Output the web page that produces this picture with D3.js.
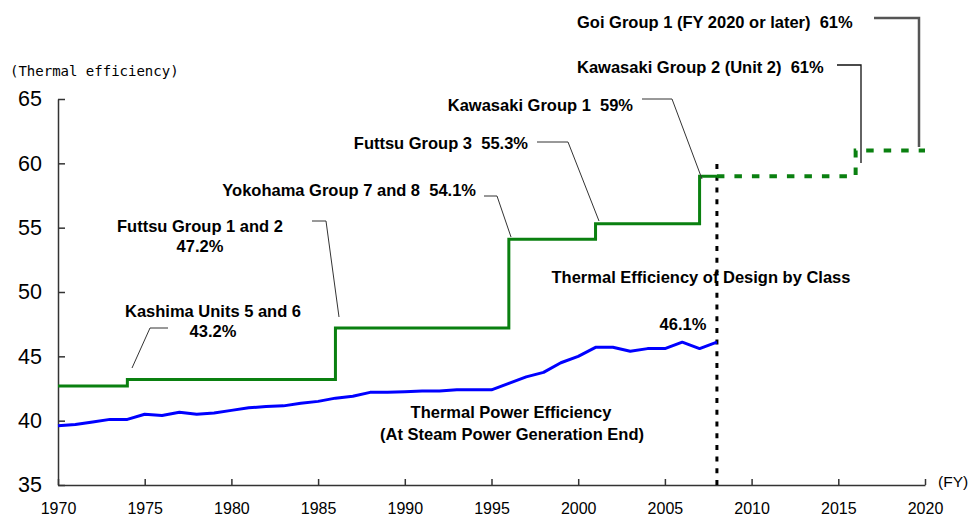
<!DOCTYPE html>
<html>
<head>
<meta charset="utf-8">
<script src="https://cdn.jsdelivr.net/npm/d3@7"></script>
<style>
  body { margin: 0; background: #fff; }
  svg { display: block; }
  .label { font-family: "Liberation Sans", Arial, sans-serif; font-weight: bold; font-size: 16.5px; fill: #000; }
</style>
</head>
<body>
<svg width="970" height="517"></svg>
<script>
// Thermal power efficiency (at steam power generation end), by fiscal year
const years = [1970, 1971, 1972, 1973, 1974, 1975, 1976, 1977, 1978, 1979,
  1980, 1981, 1982, 1983, 1984, 1985, 1986, 1987, 1988, 1989,
  1990, 1991, 1992, 1993, 1994, 1995, 1996, 1997, 1998, 1999,
  2000, 2001, 2002, 2003, 2004, 2005, 2006, 2007, 2008];
const efficiency = [39.6, 39.7, 39.9, 40.1, 40.1, 40.5, 40.4, 40.65, 40.5, 40.6,
  40.8, 41.0, 41.1, 41.15, 41.35, 41.5, 41.75, 41.9, 42.2, 42.2,
  42.25, 42.3, 42.3, 42.4, 42.4, 42.4, 42.9, 43.4, 43.75, 44.5,
  45.0, 45.7, 45.7, 45.4, 45.6, 45.6, 46.1, 45.6, 46.1];

// Thermal efficiency of design by class (step line)
const designYears = [1970, 1974, 1986, 1996, 2001, 2007, 2008];
const designValues = [42.7, 43.2, 47.2, 54.1, 55.3, 59.0, 59.0];
// Planned units (dashed)
const planYears = [2008, 2016, 2020];
const planValues = [59.0, 61.0, 61.0];

const xTicks = [1970, 1975, 1980, 1985, 1990, 1995, 2000, 2005, 2010, 2015, 2020];
const yTicks = [35, 40, 45, 50, 55, 60, 65];
const currentYear = 2008;

// Annotation texts
const annotations = [
  { lines: ["Kashima Units 5 and 6", "43.2%"] },
  { lines: ["Futtsu Group 1 and 2", "47.2%"] },
  { lines: ["Yokohama Group 7 and 8  54.1%"] },
  { lines: ["Futtsu Group 3  55.3%"] },
  { lines: ["Kawasaki Group 1  59%"] },
  { lines: ["Kawasaki Group 2 (Unit 2)  61%"] },
  { lines: ["Goi Group 1 (FY 2020 or later)  61%"] }
];

// Layout of annotation labels and their leader lines (pixels)
const annotationLayout = [
  { x: 213, y: 317, anchor: "middle", lead: [[168, 328], [150, 328], [132, 368]], stroke: "#333", width: 1 },
  { x: 200, y: 232, anchor: "middle", lead: [[312, 221], [326, 221], [339, 317]], stroke: "#333", width: 1 },
  { x: 476, y: 196, anchor: "end", lead: [[484, 196], [497, 196], [511, 237]], stroke: "#333", width: 1 },
  { x: 528, y: 149, anchor: "end", lead: [[537, 142], [568, 142], [599, 221]], stroke: "#333", width: 1 },
  { x: 633, y: 111, anchor: "end", lead: [[642, 99], [672, 99], [702, 179]], stroke: "#333", width: 1 },
  { x: 577, y: 73, anchor: "start", lead: [[837, 65], [861, 65], [861, 163]], stroke: "#111", width: 1.3 },
  { x: 577, y: 28, anchor: "start", lead: [[874, 18], [919, 18], [919, 147]], stroke: "#555", width: 2.5 }
];

function initGraph() {
  const svg = d3.select("svg");
  const margin = { top: 99, right: 45, bottom: 32, left: 58 };
  const width = +svg.attr("width") - margin.left - margin.right;
  const height = +svg.attr("height") - margin.top - margin.bottom;

  const xScale = d3.scaleLinear().domain([1970, 2020]).range([0, width]);
  const yScale = d3.scaleLinear().domain([35, 65]).range([height, 0]);

  const content = svg.append("g")
    .attr("transform", "translate(" + margin.left + "," + margin.top + ")");

  return { svg, content, margin, width, height, xScale, yScale };
}

function drawAxes(graph) {
  const { content, xScale, yScale, height } = graph;

  const xAxis = d3.axisBottom(xScale)
    .tickValues(xTicks)
    .tickFormat(d3.format("d"))
    .tickSizeInner(-6)
    .tickSizeOuter(0)
    .tickPadding(18);

  const gx = content.append("g")
    .attr("class", "x axis")
    .attr("transform", "translate(0," + height + ")")
    .call(xAxis);

  const yAxis = d3.axisLeft(yScale)
    .tickValues(yTicks)
    .tickSizeInner(-7)
    .tickSizeOuter(0)
    .tickPadding(16);

  const gy = content.append("g")
    .attr("class", "y axis")
    .call(yAxis);

  [gx, gy].forEach(g => {
    g.selectAll("path, line").attr("stroke", "#333").attr("stroke-width", 1.5);
  });
  gx.selectAll("text")
    .attr("font-family", "Liberation Sans, Arial, sans-serif")
    .attr("font-size", "16px")
    .attr("fill", "#000");
  gy.selectAll("text")
    .attr("font-family", "Liberation Sans, Arial, sans-serif")
    .attr("font-size", "21.5px")
    .attr("fill", "#000");

  graph.svg.append("text")
    .attr("x", 10)
    .attr("y", 76)
    .attr("font-family", "DejaVu Sans Mono, monospace")
    .attr("font-size", "14px")
    .text("(Thermal efficiency)");

  graph.svg.append("text")
    .attr("x", 938)
    .attr("y", 487)
    .attr("font-family", "Liberation Sans, Arial, sans-serif")
    .attr("font-size", "15.5px")
    .text("(FY)");
}

function drawLines(graph) {
  const { content, xScale, yScale } = graph;

  // Current year divider
  content.append("line")
    .attr("x1", xScale(currentYear))
    .attr("x2", xScale(currentYear))
    .attr("y1", yScale(35))
    .attr("y2", yScale(60.1))
    .attr("stroke", "#000")
    .attr("stroke-width", 3)
    .attr("stroke-dasharray", "5,6.7");

  const step = d3.line()
    .x(d => xScale(d[0]))
    .y(d => yScale(d[1]))
    .curve(d3.curveStepAfter);

  content.append("path")
    .datum(designYears.map((y, i) => [y, designValues[i]]))
    .attr("d", step)
    .attr("fill", "none")
    .attr("stroke", "#0a8010")
    .attr("stroke-width", 3);

  content.append("path")
    .datum(planYears.map((y, i) => [y, planValues[i]]))
    .attr("d", step)
    .attr("fill", "none")
    .attr("stroke", "#0a8010")
    .attr("stroke-width", 4)
    .attr("stroke-dasharray", "7.5,10");

  const line = d3.line()
    .x(d => xScale(d[0]))
    .y(d => yScale(d[1]));

  content.append("path")
    .datum(years.map((y, i) => [y, efficiency[i]]))
    .attr("d", line)
    .attr("fill", "none")
    .attr("stroke", "#0000ff")
    .attr("stroke-width", 3)
    .attr("stroke-linejoin", "round");
}

function drawAnnotations(graph) {
  const svg = graph.svg;

  annotations.forEach((a, i) => {
    const pos = annotationLayout[i];
    svg.append("polyline")
      .attr("points", pos.lead.map(p => p.join(",")).join(" "))
      .attr("fill", "none")
      .attr("stroke", pos.stroke)
      .attr("stroke-width", pos.width);

    const t = svg.append("text")
      .attr("class", "label")
      .attr("text-anchor", pos.anchor)
      .attr("x", pos.x)
      .attr("y", pos.y)
      .attr("xml:space", "preserve");
    a.lines.forEach((l, j) => {
      t.append("tspan")
        .attr("x", pos.x)
        .attr("dy", j === 0 ? 0 : 20)
        .text(l);
    });
  });

  // Series labels
  const free = [
    { text: "Thermal Efficiency of Design by Class", x: 701, y: 283 },
    { text: "46.1%", x: 683, y: 330 },
    { text: "Thermal Power Efficiency", x: 511, y: 418 },
    { text: "(At Steam Power Generation End)", x: 512, y: 440 }
  ];
  svg.selectAll("text.free")
    .data(free)
    .enter()
    .append("text")
    .attr("class", "label free")
    .attr("text-anchor", "middle")
    .attr("x", d => d.x)
    .attr("y", d => d.y)
    .text(d => d.text);
}

window.addEventListener("load", function() {
  const graph = initGraph();
  drawAxes(graph);
  drawLines(graph);
  drawAnnotations(graph);
});
</script>
</body>
</html>
